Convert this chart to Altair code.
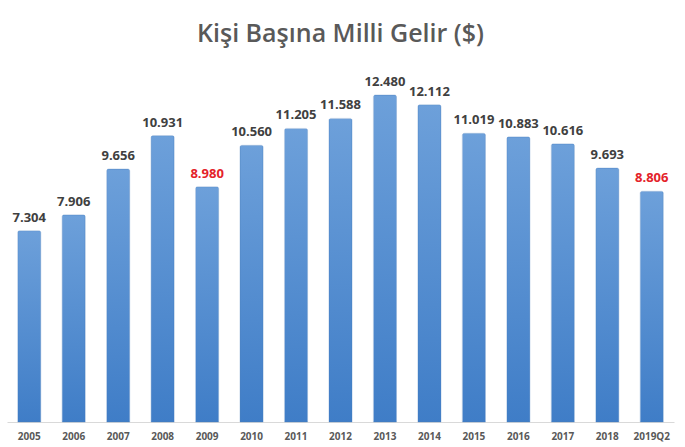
import altair as alt
import pandas as pd

years = ["2005", "2006", "2007", "2008", "2009", "2010", "2011", "2012",
         "2013", "2014", "2015", "2016", "2017", "2018", "2019Q2"]
values = [7304, 7906, 9656, 10931, 8980, 10560, 11205, 11588,
          12480, 12112, 11019, 10883, 10616, 9693, 8806]
labels = ["7.304", "7.906", "9.656", "10.931", "8.980", "10.560", "11.205", "11.588",
          "12.480", "12.112", "11.019", "10.883", "10.616", "9.693", "8.806"]
highlight = [False, False, False, False, True, False, False, False,
             False, False, False, False, False, False, True]

df = pd.DataFrame({"year": years, "value": values, "label": labels, "hl": highlight})

x = alt.X("year:N", sort=years, title=None,
          scale=alt.Scale(paddingInner=0.48, paddingOuter=0.24),
          axis=alt.Axis(labelAngle=0, labelFont="Open Sans", labelFontSize=10,
                        labelFontWeight="bold", labelColor="#595959",
                        labelPadding=9, ticks=False, domainColor="#d9d9d9",
                        domainWidth=1))
y = alt.Y("value:Q", title=None, scale=alt.Scale(domain=[0, 13817], nice=False),
          axis=None)

grad = alt.Gradient(gradient="linear",
                    stops=[alt.GradientStop(color="#6da0da", offset=0),
                           alt.GradientStop(color="#3f7dc7", offset=1)],
                    x1=0, x2=0, y1=0, y2=1)

bars = alt.Chart(df).mark_bar(color=grad, cornerRadiusTopLeft=2, cornerRadiusTopRight=2,
                              stroke="#4a80c0", strokeWidth=0.5, strokeOpacity=0.6).encode(x=x, y=y)

text = alt.Chart(df).mark_text(baseline="bottom", dy=-6, font="Open Sans", fontSize=13,
                               fontWeight="bold").encode(
    x=x, y=y, text="label:N",
    color=alt.condition("datum.hl", alt.value("#e4222a"), alt.value("#404040")))

chart = (bars + text).properties(
    width=667, height=362,
    padding={"left": 7, "top": 60, "right": 11, "bottom": 25},
    autosize=alt.AutoSizeParams(type="none"),
    background="white",
    title=alt.TitleParams("Kişi Başına Milli Gelir ($)", font="Open Sans", fontSize=25,
                          fontWeight=600, color="#595959", anchor="middle",
                          offset=18, dy=25, baseline="alphabetic"),
).configure_view(stroke=None)

chart.save("out.html", embed_options={"renderer": "svg", "actions": False})
